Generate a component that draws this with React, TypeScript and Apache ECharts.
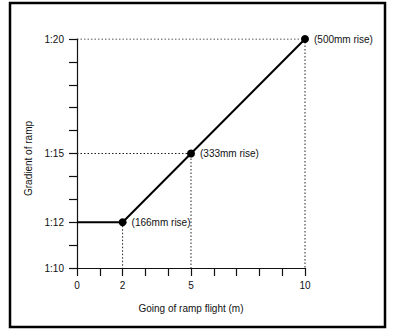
import React, { useEffect, useRef } from "react";
import * as echarts from "echarts";

const goingM = [0, 2, 5, 10];
const gradient = [12, 12, 15, 20];
const riseLabels = ["", "(166mm rise)", "(333mm rise)", "(500mm rise)"];
const xLabelled = [0, 2, 5, 10];
const yLabelled = [10, 12, 15, 20];
const xMin = 0, xMax = 10, yMin = 10, yMax = 20;
const xName = "Going of ramp flight (m)";
const yName = "Gradient of ramp";

const FONT = "'Liberation Sans', Arial, Helvetica, sans-serif";

export default function App() {
  const ref = useRef<HTMLDivElement>(null);
  useEffect(() => {
    if (!ref.current) return;
    const chart = echarts.init(ref.current, undefined, { renderer: "svg" });

    const guideSeries: any[] = [];
    goingM.forEach((x, i) => {
      if (!riseLabels[i]) return;
      const y = gradient[i];
      const pts: number[][] = [];
      if (i >= 2) pts.push([xMin, y]);
      pts.push([x, y]);
      pts.push([x, yMin]);
      guideSeries.push({
        type: "line",
        data: pts,
        symbol: "none",
        silent: true,
        z: 1,
        lineStyle: { color: "#222", width: 1, type: [1.5, 2] },
      });
    });

    chart.setOption({
      animation: false,
      backgroundColor: "#fff",
      textStyle: { fontFamily: FONT },
      grid: { left: 77, right: 89, top: 39, bottom: 67 },
      graphic: [
        {
          type: "rect",
          shape: { x: 10, y: 3, width: 375, height: 324 },
          style: { fill: "none", stroke: "#000", lineWidth: 2.5 },
          silent: true,
        },
      ],
      xAxis: {
        type: "value",
        min: xMin,
        max: xMax,
        interval: 1,
        name: xName,
        nameLocation: "middle",
        nameGap: 35,
        nameTextStyle: { color: "#111", fontSize: 10, fontFamily: FONT },
        splitLine: { show: false },
        axisLine: { show: true, lineStyle: { color: "#111", width: 1.2 } },
        axisTick: { show: true, length: 8, lineStyle: { color: "#111", width: 1.2 } },
        axisLabel: {
          color: "#111",
          fontSize: 10,
          fontFamily: FONT,
          margin: 12,
          formatter: (v: number) => (xLabelled.includes(v) ? String(v) : ""),
        },
      },
      yAxis: {
        type: "value",
        min: yMin,
        max: yMax,
        interval: 1,
        name: yName,
        nameLocation: "middle",
        nameGap: 44,
        nameTextStyle: { color: "#111", fontSize: 10, fontFamily: FONT, padding: [0, 10, 0, 0] },
        splitLine: { show: false },
        axisLine: { show: true, lineStyle: { color: "#111", width: 1.2 } },
        axisTick: { show: true, length: 8, lineStyle: { color: "#111", width: 1.2 } },
        axisLabel: {
          color: "#111",
          fontSize: 10,
          fontFamily: FONT,
          margin: 13,
          formatter: (v: number) => (yLabelled.includes(v) ? "1:" + v : ""),
        },
      },
      series: [
        ...guideSeries,
        {
          type: "line",
          z: 3,
          data: goingM.map((x, i) => ({
            value: [x, gradient[i]],
            symbol: riseLabels[i] ? "circle" : "none",
            symbolSize: 8,
            label: {
              show: !!riseLabels[i],
              position: "right",
              distance: 5,
              formatter: riseLabels[i],
              color: "#111",
              fontSize: 10,
              fontFamily: FONT,
            },
          })),
          lineStyle: { color: "#000", width: 2 },
          itemStyle: { color: "#000" },
        },
      ],
    });
    return () => chart.dispose();
  }, []);
  return (
    <div
      ref={ref}
      style={{ position: "absolute", left: 0, top: 0, width: 394, height: 335 }}
    />
  );
}
